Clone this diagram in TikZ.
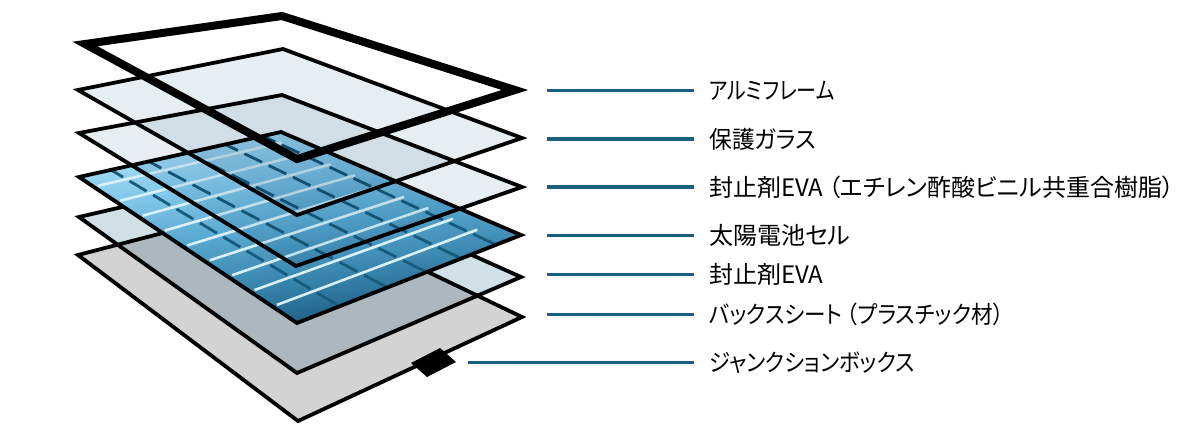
\documentclass[tikz,border=0pt]{standalone}
\usepackage{fontspec}
\setmainfont{Noto Sans CJK JP}[RawFeature=+palt]
\usetikzlibrary{calc}
\definecolor{leadercol}{HTML}{1B5E82}
\definecolor{glassfill}{HTML}{E7EEF2}
\definecolor{evafill}{HTML}{D1DFE6}
\definecolor{backfill}{HTML}{D3D3D3}
\definecolor{cellA}{HTML}{B3E3F8}
\definecolor{cellB}{HTML}{82C8EA}
\definecolor{cellC}{HTML}{56A6CE}
\definecolor{cellD}{HTML}{3580A8}
\definecolor{cellE}{HTML}{16557A}
\definecolor{gridcol}{HTML}{175A7C}
\definecolor{busbarcol}{HTML}{D8F0FA}
\pgfdeclareverticalshading{cellshade}{100bp}{color(0bp)=(cellE); color(25bp)=(cellE); color(37bp)=(cellD); color(50bp)=(cellC); color(62bp)=(cellB); color(75bp)=(cellA); color(100bp)=(cellA)}
\tikzset{
  layer/.style={draw=black, line width=3.8pt, line join=miter},
  framestyle/.style={draw=black, line width=8pt, line join=miter},
  gridl/.style={draw=gridcol, line width=2.8pt},
  busbar/.style={draw=busbarcol, line width=2.6pt},
  leader/.style={draw=leadercol, line width=3.5pt},
  lbl/.style={font=\fontsize{24}{28}\selectfont, inner sep=0pt, anchor=west, text=black},
}
\begin{document}
\begin{tikzpicture}[x=1pt,y=-1pt]
\useasboundingbox (0,0) rectangle (1200,437);
% layer corner coordinates
\coordinate (fL) at (85,44);  \coordinate (fT) at (282,16);  \coordinate (fR) at (515,90);  \coordinate (fB) at (297,159);
\coordinate (gL) at (78,90);  \coordinate (gT) at (283,49);  \coordinate (gR) at (522,138); \coordinate (gB) at (297,215);
\coordinate (eL) at (79,133); \coordinate (eT) at (282,95);  \coordinate (eR) at (522,187); \coordinate (eB) at (296,266);
\coordinate (cL) at (79,177); \coordinate (cT) at (281,132); \coordinate (cR) at (521,235); \coordinate (cB) at (297,323);
\coordinate (vL) at (79,217); \coordinate (vT) at (282,170); \coordinate (vR) at (521,277); \coordinate (vB) at (297,373);
\coordinate (bL) at (78,255); \coordinate (bT) at (282,202); \coordinate (bR) at (522,317); \coordinate (bB) at (298,421);
% back sheet
\filldraw[layer, fill=backfill] (bL) -- (bT) -- (bR) -- (bB) -- cycle;
% lower EVA
\begin{scope}[blend mode=multiply]
\filldraw[layer, fill=evafill] (vL) -- (vT) -- (vR) -- (vB) -- cycle;
\end{scope}
% solar cells
\shade[shading=cellshade, shading angle=8] (cL) -- (cT) -- (cR) -- (cB) -- cycle;
\foreach \ut/\ub in {0.158/0.19, 0.345/0.404, 0.537/0.578, 0.724/0.733, 0.91/0.889} {
  \coordinate (dA) at ($(cL)!\ut!(cT)$);
  \coordinate (dC) at ($(cB)!\ub!(cR)$);
  \foreach \va/\vb in {0/0.0535, 0.0815/0.156, 0.184/0.2585, 0.2865/0.361, 0.389/0.4635, 0.4915/0.566, 0.594/0.6685, 0.6965/0.771, 0.799/0.8735, 0.9015/1}
    \draw[gridl] ($(dA)!\va!(dC)$) -- ($(dA)!\vb!(dC)$);
}
\foreach \v in {0.0675, 0.17, 0.2725, 0.375, 0.4775, 0.58, 0.6825, 0.785, 0.8875} {
  \coordinate (wa) at ($(cL)!\v!(cB)$);
  \coordinate (wb) at ($(cT)!\v!(cR)$);
  \draw[busbar] ($(wa)!0.02!(wb)$) -- ($(wa)!0.925!(wb)$);
}
\draw[layer] (cL) -- (cT) -- (cR) -- (cB) -- cycle;
% upper EVA and glass
\begin{scope}[blend mode=multiply]
\filldraw[layer, fill=glassfill] (eL) -- (eT) -- (eR) -- (eB) -- cycle;
\filldraw[layer, fill=glassfill] (gL) -- (gT) -- (gR) -- (gB) -- cycle;
\end{scope}
% aluminium frame
\draw[framestyle] (fL) -- (fT) -- (fR) -- (fB) -- cycle;
% junction box
\fill[black] (411,363) -- (440,348) -- (456,362) -- (427,377) -- cycle;
% labels
\node[lbl] (l1) at (709,90.5)  {\scalebox{0.83}[1]{アルミフレーム}};
\node[lbl] (l2) at (709,139)   {\scalebox{0.95}[1]{保護ガラス}};
\node[lbl] (l3) at (709,187)   {封止剤EVA\hspace{0.2em}（エチレン酢酸ビニル共重合樹脂）};
\node[lbl] (l4) at (709,235.5) {太陽電池セル};
\node[lbl] (l5) at (709,274.5) {封止剤EVA};
\node[lbl] (l6) at (709,314.5) {\scalebox{0.9}[1]{バックスシート\hspace{0.2em}（プラスチック材）}};
\node[lbl] (l7) at (709,362.5) {\scalebox{0.89}[1]{ジャンクションボックス}};
\coordinate (a1) at (547,90.5);
\coordinate (a2) at (547,139);
\coordinate (a3) at (547,187);
\coordinate (a4) at (547,235.5);
\coordinate (a5) at (547,274.5);
\coordinate (a6) at (547,314.5);
\coordinate (a7) at (468,362.5);
\foreach \i in {1,...,7}
  \draw[leader] (a\i) -- ([xshift=-15pt]l\i.west);
\end{tikzpicture}
\end{document}
